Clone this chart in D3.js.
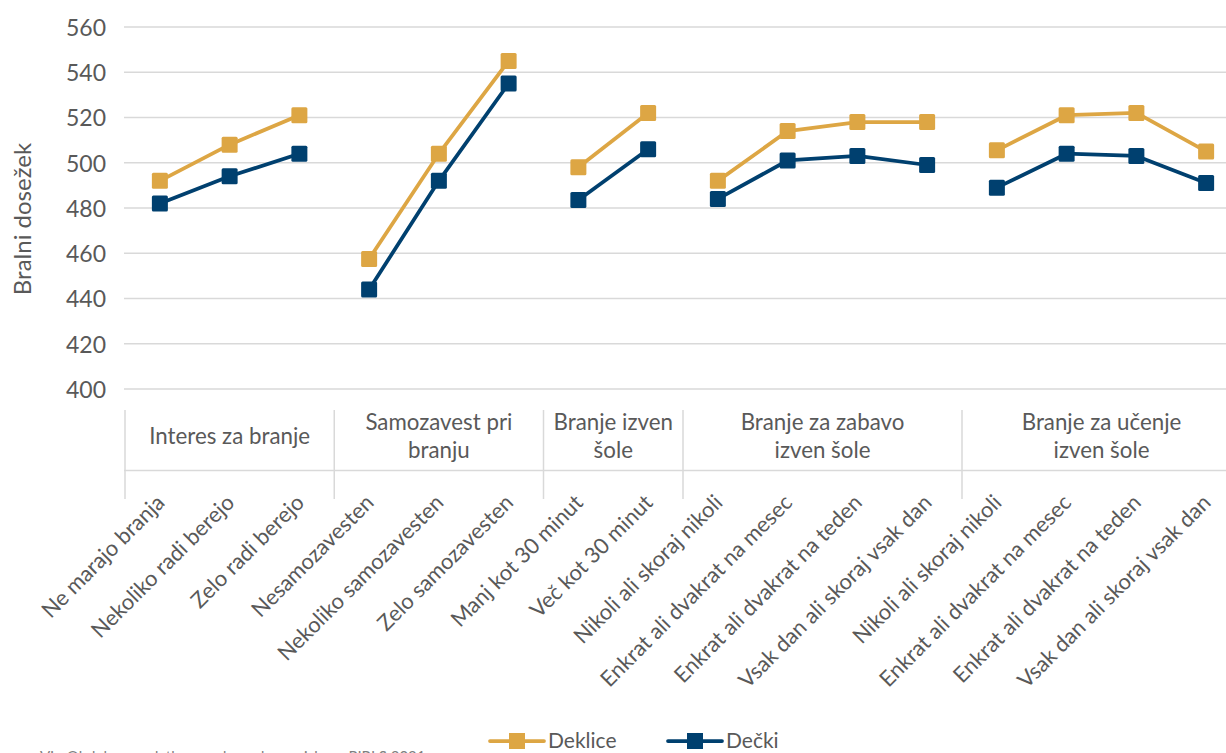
<!DOCTYPE html>
<html><head><meta charset="utf-8">
<script src="https://cdn.jsdelivr.net/npm/d3@7"></script>
<style>
html,body{margin:0;padding:0;background:#fff;overflow:hidden;}
svg{display:block;font-family:Lato,"Open Sans",sans-serif;}
</style></head>
<body>
<svg id="chart" width="1226" height="753"></svg>
<script>
const groups = ["Interes za branje","Samozavest pri branju","Branje izven šole","Branje za zabavo izven šole","Branje za učenje izven šole"];
const groupLines = [["Interes za branje"],["Samozavest pri","branju"],["Branje izven","šole"],["Branje za zabavo","izven šole"],["Branje za učenje","izven šole"]];
const groupSizes = [3,3,2,4,4];
const categories = ["Ne marajo branja","Nekoliko radi berejo","Zelo radi berejo",
  "Nesamozavesten","Nekoliko samozavesten","Zelo samozavesten",
  "Manj kot 30 minut","Več kot 30 minut",
  "Nikoli ali skoraj nikoli","Enkrat ali dvakrat na mesec","Enkrat ali dvakrat na teden","Vsak dan ali skoraj vsak dan",
  "Nikoli ali skoraj nikoli","Enkrat ali dvakrat na mesec","Enkrat ali dvakrat na teden","Vsak dan ali skoraj vsak dan"];
const deklice = [492,508,521, 457.5,504,545, 498,522, 492,514,518,518, 505.5,521,522,505];
const decki   = [482,494,504, 444,492,535, 483.5,506, 484,501,503,499, 489,504,503,491];
const yTicks = [400,420,440,460,480,500,520,540,560];
const seriesNames = ["Deklice","Dečki"];
const colors = ["#DDA644","#00406F"];

(function(){
const svg = d3.select("#chart");
const gray = "#595959", gridC = "#d9d9d9";
const pL = 125, pR = 1241, pT = 27, pB = 389;

const x = d3.scaleBand().domain(d3.range(categories.length)).range([pL,pR]).paddingInner(0).paddingOuter(0);
const y = d3.scaleLinear().domain([400,560]).range([pB,pT]);

svg.append("g").selectAll("line").data(yTicks).join("line")
  .attr("x1",pL-1).attr("x2",1226).attr("y1",d=>y(d)).attr("y2",d=>y(d))
  .attr("stroke",gridC).attr("stroke-width",1.5);

const yAxis = d3.axisLeft(y).tickValues(yTicks).tickSize(0).tickPadding(0);
const ya = svg.append("g").attr("transform",`translate(106,0)`).call(yAxis);
ya.select(".domain").remove();
ya.selectAll("text").attr("font-family","Lato").attr("font-size",23).attr("fill",gray).attr("dy","0.36em");

svg.append("text").attr("transform","translate(31,219) rotate(-90)")
  .attr("text-anchor","middle").attr("font-size",24).attr("fill",gray).text("Bralni dosežek");

let starts = [], acc = 0;
groupSizes.forEach(n=>{starts.push(acc); acc+=n;});
const bounds = starts.map(s=>x(s)).concat([pR]);
const tg = svg.append("g");
tg.selectAll("line.v").data(bounds.slice(0,-1)).join("line")
  .attr("x1",d=>d).attr("x2",d=>d).attr("y1",410).attr("y2",499)
  .attr("stroke",gridC).attr("stroke-width",1.5);
tg.append("line").attr("x1",pL-1).attr("x2",pR).attr("y1",470.5).attr("y2",470.5)
  .attr("stroke",gridC).attr("stroke-width",1.5);

groupLines.forEach((lines,i)=>{
  const cx = (bounds[i]+bounds[i+1])/2;
  const t = tg.append("text").attr("text-anchor","middle").attr("font-size",22.3).attr("fill",gray);
  const y0 = lines.length===1 ? 444 : 430;
  lines.forEach((l,j)=>t.append("tspan").attr("x",cx).attr("y",y0+j*28).text(l));
});

svg.append("g").selectAll("text").data(categories).join("text")
  .attr("transform",(d,i)=>`translate(${x(i)+x.bandwidth()/2+6},${504}) rotate(-45)`)
  .attr("text-anchor","end").attr("font-size",21.8).attr("fill",gray)
  .text(d=>d);

const line = d3.line().x(d=>x(d.i)+x.bandwidth()/2).y(d=>y(d.v));
[deklice,decki].forEach((vals,si)=>{
  const g = svg.append("g");
  groupSizes.forEach((n,gi)=>{
    const pts = d3.range(starts[gi],starts[gi]+n).map(i=>({i,v:vals[i]}));
    g.append("path").datum(pts).attr("d",line).attr("fill","none")
      .attr("stroke",colors[si]).attr("stroke-width",3.75).attr("stroke-linejoin","round");
  });
  g.selectAll("rect").data(vals.map((v,i)=>({i,v}))).join("rect")
    .attr("x",d=>x(d.i)+x.bandwidth()/2-8).attr("y",d=>y(d.v)-8)
    .attr("width",16).attr("height",16).attr("rx",1.5).attr("fill",colors[si]);
});

const lg = svg.append("g");
const legX = [490,668];
seriesNames.forEach((n,i)=>{
  const gx = legX[i];
  lg.append("line").attr("x1",gx).attr("x2",gx+54).attr("y1",741).attr("y2",741)
    .attr("stroke",colors[i]).attr("stroke-width",3.75).attr("stroke-linecap","round");
  lg.append("rect").attr("x",gx+19).attr("y",733).attr("width",16).attr("height",16).attr("fill",colors[i]);
  lg.append("text").attr("x",gx+58).attr("y",748).attr("font-size",21).attr("fill",gray).text(n);
});

svg.append("text").attr("x",40).attr("y",762).attr("font-size",15).attr("fill","#7f7f7f")
  .text("Vir: Obdelava podatkov mednarodne raziskave PIRLS 2021");
})();
</script>
</body></html>
